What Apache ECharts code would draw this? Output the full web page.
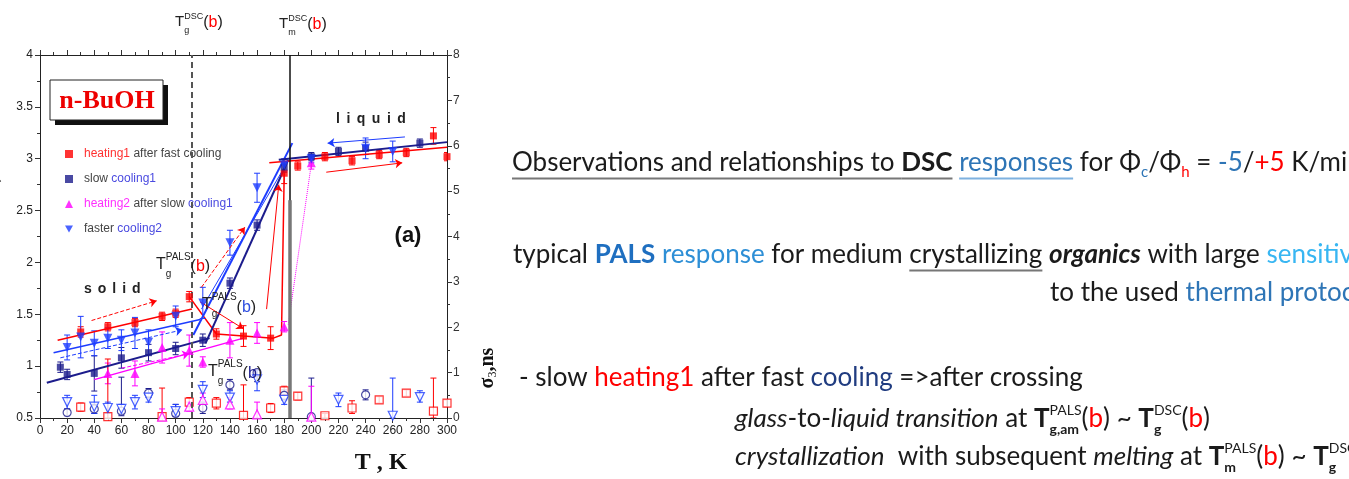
<!DOCTYPE html>
<html><head><meta charset="utf-8">
<script src="https://cdn.jsdelivr.net/npm/echarts@6/dist/echarts.min.js"></script>
<style>html,body{margin:0;padding:0;background:#fff;overflow:hidden}#c{width:1349px;height:479px}</style>
</head><body><div id="c"></div>
<script>
// ---------- data (T in K, tau3 in ns on left axis, sigma3 in ns on right axis) ----------
const heating1T   = [30, 50, 70, 90, 100, 110, 130, 150, 170, 180, 190, 210, 230, 250, 270, 290, 300];
const heating1Tau = [1.33, 1.38, 1.42, 1.48, 1.51, 1.67, 1.31, 1.29, 1.27, 2.86, 2.93, 3.02, 2.98, 3.04, 3.06, 3.22, 3.02];
const heating1Err = [0.05, 0.04, 0.04, 0.04, 0.04, 0.05, 0.05, 0.1, 0.11, 0.1, 0.04, 0.04, 0.04, 0.04, 0.04, 0.08, 0.04];

const slowCooling1T   = [15, 20, 40, 60, 80, 100, 120, 140, 160, 180, 200, 220, 240, 280];
const slowCooling1Tau = [0.99, 0.92, 0.93, 1.08, 1.13, 1.17, 1.25, 1.80, 2.36, 2.92, 3.02, 3.07, 3.10, 3.15];
const slowCooling1Err = [0.05, 0.05, 0.17, 0.1, 0.08, 0.06, 0.06, 0.05, 0.05, 0.05, 0.04, 0.04, 0.06, 0.04];

const heating2T   = [50, 70, 90, 110, 120, 140, 160, 180, 200];
const heating2Tau = [0.93, 0.93, 1.18, 1.15, 1.04, 1.25, 1.32, 1.38, 2.96];
const heating2Err = [0.1, 0.12, 0.15, 0.15, 0.05, 0.17, 0.1, 0.05, 0.06];

const fasterCooling2T   = [20, 30, 40, 50, 60, 70, 80, 100, 120, 140, 160, 180, 200, 240, 260];
const fasterCooling2Tau = [1.18, 1.28, 1.22, 1.27, 1.25, 1.32, 1.23, 1.48, 1.61, 2.19, 2.72, 2.94, 3.00, 3.10, 3.07];
const fasterCooling2Err = [0.12, 0.2, 0.12, 0.1, 0.1, 0.15, 0.12, 0.1, 0.15, 0.12, 0.14, 0.06, 0.04, 0.1, 0.1];

const heating1SigT  = [30, 50, 90, 110, 130, 150, 170, 180, 190, 210, 230, 250, 270, 290, 300];
const heating1Sig   = [0.24, 0.03, 0.03, 0.35, 0.33, 0.06, 0.22, 0.6, 0.48, 0.05, 0.22, 0.4, 0.55, 0.15, 0.33];
const heating1SigLo = [0.15, 0, 0, 0.25, 0.2, 0, 0.12, 0.5, 0.4, 0, 0.1, 0.33, 0.48, 0, 0.25];
const heating1SigHi = [0.33, 1.3, 0.66, 0.45, 0.45, 0.73, 0.32, 0.7, 0.56, 0.1, 0.38, 0.47, 0.62, 0.88, 0.4];

const slowCooling1SigT  = [20, 40, 60, 80, 100, 120, 140, 160, 180, 200, 240];
const slowCooling1Sig   = [0.12, 0.2, 0.15, 0.55, 0.1, 0.22, 0.73, 1.0, 0.5, 0.03, 0.51];
const slowCooling1SigLo = [0.05, 0.1, 0.05, 0.45, 0.03, 0.1, 0.62, 0.8, 0.4, 0, 0.4];
const slowCooling1SigHi = [0.2, 0.3, 0.9, 0.65, 0.3, 0.35, 0.85, 1.05, 0.62, 0.88, 0.62];

const fasterCooling2SigT  = [20, 40, 50, 60, 70, 80, 100, 120, 140, 160, 180, 220, 260, 280];
const fasterCooling2Sig   = [0.35, 0.25, 0.22, 0.2, 0.35, 0.45, 0.15, 0.62, 0.45, 0.85, 0.4, 0.4, 0.05, 0.46];
const fasterCooling2SigLo = [0.2, 0.1, 0.1, 0.1, 0.2, 0.35, 0.05, 0.45, 0.35, 0.6, 0.3, 0.25, 0, 0.35];
const fasterCooling2SigHi = [0.5, 0.5, 0.35, 0.3, 0.5, 0.55, 0.3, 0.8, 0.6, 1.05, 0.55, 0.55, 0.88, 0.6];

const heating2SigT  = [90, 110, 120, 140, 160, 200];
const heating2Sig   = [0.03, 0.25, 0.4, 0.3, 0.08, 0.03];
const heating2SigLo = [0, 0.15, 0.3, 0.2, 0, 0];
const heating2SigHi = [0.2, 0.35, 0.55, 0.45, 0.35, 0.7];

// fitted / guide lines, [T, tau3]
const redFitSolid      = [[13, 1.25], [112, 1.55]];
const redArrowSolid    = [[38, 1.44], [86, 1.63]];
const blueFitSolid     = [[10, 1.13], [118, 1.45]];
const blueArrowSolid   = [[15, 1.08], [105, 1.35]];
const navyFitSolid     = [[5, 0.84], [125, 1.27]];
const magentaFitSolid  = [[40, 0.87], [150, 1.27]];
const magentaArrow     = [[60, 0.98], [110, 1.12]];
const blueSteepA       = [[113, 1.30], [186, 3.15]];
const blueSteepB       = [[119, 1.55], [182, 2.96]];
const navySteep        = [[122, 1.22], [183, 2.99]];
const redArrowSteep    = [[119, 1.76], [151, 2.34]];
const redArrowDown     = [[118, 1.62], [150, 1.36]];
const redArrowUp       = [[167, 1.55], [176, 2.75]];
const heating2Dotted   = [[183, 1.40], [200, 2.95]];
const redFitLiquid     = [[169, 2.96], [300, 3.11]];
const navyFitLiquid    = [[176, 2.99], [300, 3.16]];
const blueArrowLiquid  = [[269, 3.21], [212, 3.15]];
const redArrowLiquid   = [[211, 2.87], [267, 2.96]];
const heating1Path     = [[110, 1.67], [130, 1.31], [150, 1.29], [172, 1.27], [178, 1.30], [180, 2.86]];
const tgDSC = 112, tmDSC = 184, tmGrayTop = 2.6;

const xLabelsInterval = 20, leftInterval = 0.5, rightInterval = 1;

// ---------- helpers ----------
const RED = '#ff0000', NAVY = '#1c1c8c', MAG = '#ff00ff', BLUE = '#1d3cff';
const pts = (T, V) => T.map((t, i) => [t, V[i]]);
function errData(T, V, E) { return T.map((t, i) => [t, V[i] - E[i], V[i] + E[i]]); }
function errData2(T, L, H) { return T.map((t, i) => [t, L[i], H[i]]); }
function errSeries(data, color, yIdx) {
  return {
    type: 'custom', yAxisIndex: yIdx, silent: true, z: 3, clip: true,
    encode: { x: 0, y: [1, 2] }, data,
    renderItem(params, api) {
      const x = api.value(0);
      const a = api.coord([x, api.value(1)]), b = api.coord([x, api.value(2)]);
      const st = { stroke: color, lineWidth: 1 };
      return { type: 'group', children: [
        { type: 'line', shape: { x1: a[0], y1: a[1], x2: b[0], y2: b[1] }, style: st },
        { type: 'line', shape: { x1: a[0] - 3, y1: a[1], x2: a[0] + 3, y2: a[1] }, style: st },
        { type: 'line', shape: { x1: b[0] - 3, y1: b[1], x2: b[0] + 3, y2: b[1] }, style: st }
      ]};
    }
  };
}
function seg(p, color, width, type, arrow) {
  const ls = { color, width, type };
  return [{ coord: p[0], symbol: 'none', lineStyle: ls }, { coord: p[1], symbol: arrow ? 'arrow' : 'none', symbolSize: arrow ? 7 : 0, lineStyle: ls }];
}

const mctx = document.createElement('canvas').getContext('2d');
function run(x0, y, base, pieces) {
  const els = []; let x = x0;
  for (const q of pieces) {
    const p = Object.assign({}, base, q);
    mctx.font = (p.i ? 'italic ' : 'normal ') + (p.b ? 'bold ' : 'normal ') + p.s + 'px ' + p.f;
    const w = mctx.measureText(p.t).width;
    els.push({ type: 'text', silent: true, x: x, y: y + (p.dy || 0), z: 50,
      style: { text: p.t, fontSize: p.s, fontFamily: p.f, fontWeight: p.b ? 'bold' : 'normal', fontStyle: p.i ? 'italic' : 'normal',
        fill: p.c, align: 'left', verticalAlign: 'middle', textAlign: 'left', textVerticalAlign: 'middle' } });
    if (p.u) els.push({ type: 'line', silent: true, z: 50, shape: { x1: x, y1: y + p.s * 0.6, x2: x + w, y2: y + p.s * 0.6 }, style: { stroke: p.u, lineWidth: 2 } });
    if (!p.nx) x += w + (p.ls || 0);
  }
  return els;
}
function spaced(x0, y, base, word, gap) {
  return run(x0, y, base, word.split('').map(ch => ({ t: ch, ls: gap })));
}

// ---------- graphic text ----------
const AR = 'Liberation Sans, Arial, sans-serif';
const SF = 'Liberation Serif, Times New Roman, serif';
const TF = 'Lato, Open Sans, sans-serif';
const TXT = '#1b1b1b';
let G = [];
// top labels
G = G.concat(run(175, 22, { s: 15, f: AR, c: '#222' }, [
  { t: 'T' }, { t: 'g', s: 9, dy: 9, nx: true }, { t: 'DSC', s: 9, dy: -5 }, { t: '(', s: 16, dy: 1 }, { t: 'b', s: 16, dy: 1, c: RED }, { t: ')', s: 16, dy: 1 }]));
G = G.concat(run(279, 24, { s: 15, f: AR, c: '#222' }, [
  { t: 'T' }, { t: 'm', s: 9, dy: 9, nx: true }, { t: 'DSC', s: 9, dy: -5 }, { t: '(', s: 16, dy: 1 }, { t: 'b', s: 16, dy: 1, c: RED }, { t: ')', s: 16, dy: 1 }]));
// PALS labels inside plot
G = G.concat(run(156, 265, { s: 16, f: AR, c: '#222' }, [
  { t: 'T' }, { t: 'g', s: 10, dy: 9, nx: true }, { t: 'PALS', s: 10, dy: -8 }, { t: '(', dy: 2 }, { t: 'b', dy: 2, c: RED }, { t: ')', dy: 2 }]));
G = G.concat(run(202, 305, { s: 16, f: AR, c: '#222' }, [
  { t: 'T' }, { t: 'g', s: 10, dy: 9, nx: true }, { t: 'PALS', s: 10, dy: -8 }, { t: '(', dy: 3 }, { t: 'b', dy: 3, c: '#3050e0' }, { t: ')', dy: 3 }]));
G = G.concat(run(208, 372, { s: 16, f: AR, c: '#222' }, [
  { t: 'T' }, { t: 'g', s: 10, dy: 9, nx: true }, { t: 'PALS', s: 10, dy: -8 }, { t: '(', dy: 2 }, { t: 'b', dy: 2, c: NAVY }, { t: ')', dy: 2 }]));
G = G.concat(spaced(84, 289, { s: 14, f: AR, c: '#222', b: true }, 'solid', 6));
G = G.concat(spaced(336, 119, { s: 14, f: AR, c: '#222', b: true }, 'liquid', 6.5));
G.push({ type: 'text', silent: true, x: 408, y: 236, z: 50, style: { text: '(a)', fontSize: 22, fontWeight: 'bold', fontFamily: AR, fill: '#111', align: 'center', verticalAlign: 'middle', textAlign: 'center', textVerticalAlign: 'middle' } });
G.push({ type: 'text', silent: true, x: 381, y: 463, z: 50, style: { text: 'T , K', fontSize: 24, fontWeight: 'bold', fontFamily: SF, fill: '#111', align: 'center', verticalAlign: 'middle', textAlign: 'center', textVerticalAlign: 'middle' } });
// sample box
G.push({ type: 'rect', silent: true, z: 40, shape: { x: 55, y: 85, width: 113, height: 40 }, style: { fill: '#111' } });
G.push({ type: 'rect', silent: true, z: 41, shape: { x: 50, y: 80, width: 113, height: 40 }, style: { fill: '#fff', stroke: '#222', lineWidth: 1 } });
G.push({ type: 'text', silent: true, x: 107, y: 101, z: 42, style: { text: 'n-BuOH', fontSize: 26, fontWeight: 'bold', fontFamily: SF, fill: '#ee0000', align: 'center', verticalAlign: 'middle', textAlign: 'center', textVerticalAlign: 'middle' } });
// axis names
G.push({ type: 'text', silent: true, x: 488, y: 368, rotation: Math.PI / 2, z: 50, style: { text: '{a|σ}{s|3}{a|,ns}', fill: '#111', align: 'center', verticalAlign: 'middle', textAlign: 'center', textVerticalAlign: 'middle',
  rich: { a: { fontSize: 20, fontWeight: 'bold', fontFamily: SF, fill: '#111' }, s: { fontSize: 12, fontFamily: SF, fill: '#111', verticalAlign: 'bottom', padding: [9, 0, 0, 0] } } } });
G.push({ type: 'text', silent: true, x: -5, y: 178, rotation: Math.PI / 2, z: 50, style: { text: 'τ3, ns', fontSize: 16, fontWeight: 'bold', fontFamily: SF, fill: '#111', align: 'center', verticalAlign: 'middle', textAlign: 'center', textVerticalAlign: 'middle' } });

// right text block
const tb = { s: 26, f: TF, c: TXT };
const subS = 15, supS = 14;
G = G.concat(run(512, 163, tb, [
  { t: 'Observations and relationships to ', u: '#777' }, { t: 'DSC', b: true, u: '#777' }, { t: ' ' }, { t: 'responses', c: '#2e75b6', u: '#7fb2e0' },
  { t: ' for Φ' }, { t: 'c', s: subS, dy: 9, c: '#2e75b6' }, { t: '/Φ' }, { t: 'h', s: subS, dy: 9, c: RED }, { t: ' = ' }, { t: '-5', c: '#2e75b6' }, { t: '/' }, { t: '+5', c: RED }, { t: ' K/min' }]));
G = G.concat(run(513, 255, tb, [
  { t: 'typical ' }, { t: 'PALS', b: true, c: '#1f6fc0' }, { t: ' response', c: '#2e8fd6' }, { t: ' for medium ' }, { t: 'crystallizing', u: '#777' }, { t: ' ' },
  { t: 'organics', b: true, i: true }, { t: ' with large ' }, { t: 'sensitivity', c: '#38b6f2' }]));
G = G.concat(run(1050, 293, tb, [{ t: 'to the used ' }, { t: 'thermal protocol', c: '#2e75b6' }]));
G = G.concat(run(519, 378, tb, [
  { t: '- slow ' }, { t: 'heating1', c: RED }, { t: ' after fast ' }, { t: 'cooling', c: '#203c80' }, { t: ' =>after crossing' }]));
G = G.concat(run(735, 419, tb, [
  { t: 'glass', i: true }, { t: '-to-' }, { t: 'liquid transition', i: true }, { t: ' at ' }, { t: 'T', b: true },
  { t: 'g,am', s: supS, b: true, dy: 10, nx: true }, { t: 'PALS', s: supS, dy: -9 }, { t: '(' }, { t: 'b', c: RED }, { t: ') ~ ' }, { t: 'T', b: true },
  { t: 'g', s: supS, b: true, dy: 10, nx: true }, { t: 'DSC', s: supS, dy: -9 }, { t: '(' }, { t: 'b', c: RED }, { t: ')' }]));
G = G.concat(run(735, 457, tb, [
  { t: 'crystallization', i: true }, { t: '  with subsequent ' }, { t: 'melting', i: true }, { t: ' at ' }, { t: 'T', b: true },
  { t: 'm', s: supS, b: true, dy: 10, nx: true }, { t: 'PALS', s: supS, dy: -9 }, { t: '(' }, { t: 'b', c: RED }, { t: ') ~ ' }, { t: 'T', b: true },
  { t: 'g', s: supS, b: true, dy: 10, nx: true }, { t: 'DSC', s: supS, dy: -9 }, { t: '(' }, { t: 'b', c: RED }, { t: ')' }]));

// ---------- chart ----------
const axisCommon = {
  type: 'value', min: 0, max: 300, interval: xLabelsInterval,
  axisLine: { show: true, onZero: false, lineStyle: { color: '#222', width: 1 } },
  axisTick: { show: true, inside: false, length: 5, lineStyle: { color: '#333' } },
  minorTick: { show: true, splitNumber: 2, length: 3, lineStyle: { color: '#333' } },
  splitLine: { show: false }, minorSplitLine: { show: false }
};
const chart = echarts.init(document.getElementById('c'), null, { renderer: 'canvas' });
const lineSeriesMarks = [
  seg(redFitSolid, RED, 1.5, 'solid', false),
  seg(redArrowSolid, RED, 1, 'dashed', true),
  seg(blueFitSolid, BLUE, 1.5, 'solid', false),
  seg(blueArrowSolid, BLUE, 1, 'dashed', true),
  seg(navyFitSolid, NAVY, 2, 'solid', false),
  seg(magentaFitSolid, MAG, 1.5, 'solid', false),
  seg(magentaArrow, MAG, 1, 'dashed', true),
  seg(blueSteepA, BLUE, 2, 'solid', false),
  seg(blueSteepB, BLUE, 1, 'solid', false),
  seg(navySteep, NAVY, 2, 'solid', false),
  seg(redArrowSteep, RED, 1, 'dashed', true),
  seg(redArrowDown, RED, 1, 'solid', true),
  seg(redArrowUp, RED, 1, 'solid', true),
  seg(heating2Dotted, MAG, 1, 'dotted', false),
  seg(redFitLiquid, RED, 1.5, 'solid', false),
  seg(navyFitLiquid, NAVY, 2, 'solid', false),
  seg(blueArrowLiquid, BLUE, 1, 'solid', true),
  seg(redArrowLiquid, RED, 1, 'solid', true),
  seg([[tgDSC, 0.5], [tgDSC, 4]], '#555', 2, [6, 4], false),
  seg([[tmDSC, 0.5], [tmDSC, 4]], '#111', 1.5, 'solid', false),
  seg([[tmDSC, 0.5], [tmDSC, tmGrayTop]], '#777', 3.5, 'solid', false)
];
const lblStyle = { fontSize: 12, color: '#222', fontFamily: AR, showMinLabel: true, showMaxLabel: true };
const option = {
  backgroundColor: '#fff',
  animation: false,
  grid: { left: 40, right: 902, top: 55, bottom: 61, containLabel: false, outerBoundsMode: 'none' },
  legend: {
    left: 60, top: 143, orient: 'vertical', itemGap: 13, itemWidth: 8, itemHeight: 8, selectedMode: false,
    data: [
      { name: 'heating1 after fast cooling', icon: 'rect' },
      { name: 'slow cooling1', icon: 'rect' },
      { name: 'heating2 after slow cooling1', icon: 'triangle' },
      { name: 'faster cooling2', icon: 'path://M0,0L10,0L5,9Z' }
    ],
    formatter(n) {
      return {
        'heating1 after fast cooling': '{r|heating1} {g|after fast cooling}',
        'slow cooling1': '{g|slow} {b|cooling1}',
        'heating2 after slow cooling1': '{m|heating2} {g|after slow} {b|cooling1}',
        'faster cooling2': '{g|faster} {b|cooling2}'
      }[n];
    },
    textStyle: { fontSize: 12, fontFamily: AR, padding: [0, 0, 0, 6],
      rich: { r: { color: '#ff3030', fontSize: 12, fontFamily: AR }, g: { color: '#444', fontSize: 12, fontFamily: AR },
        b: { color: '#4a4ae0', fontSize: 12, fontFamily: AR }, m: { color: '#ff30ff', fontSize: 12, fontFamily: AR } } }
  },
  xAxis: [
    Object.assign({}, axisCommon, { position: 'bottom', axisLabel: Object.assign({ margin: 7 }, lblStyle) }),
    Object.assign({}, axisCommon, { position: 'top', axisLabel: { show: false } })
  ],
  yAxis: [
    { type: 'value', position: 'left', min: 0.5, max: 4, interval: leftInterval,
      axisLine: { show: true, onZero: false, lineStyle: { color: '#222' } },
      axisTick: { show: true, length: 5, lineStyle: { color: '#333' } },
      minorTick: { show: true, splitNumber: 2, length: 3, lineStyle: { color: '#333' } },
      splitLine: { show: false }, axisLabel: Object.assign({ margin: 7 }, lblStyle) },
    { type: 'value', position: 'right', min: 0, max: 8, interval: rightInterval,
      axisLine: { show: true, onZero: false, lineStyle: { color: '#222' } },
      axisTick: { show: true, length: 5, lineStyle: { color: '#333' } },
      minorTick: { show: true, splitNumber: 2, length: 3, lineStyle: { color: '#333' } },
      splitLine: { show: false }, axisLabel: Object.assign({ margin: 6 }, lblStyle, { color: '#333' }) }
  ],
  graphic: { elements: G },
  series: [
    { type: 'line', data: [], silent: true, z: 2,
      markLine: { silent: true, symbol: ['none', 'none'], label: { show: false }, emphasis: { disabled: true }, animation: false, data: lineSeriesMarks } },
    { type: 'line', data: heating1Path, showSymbol: false, silent: true, z: 2, lineStyle: { color: RED, width: 1.5 } },
    errSeries(errData(heating1T, heating1Tau, heating1Err), RED, 0),
    errSeries(errData(slowCooling1T, slowCooling1Tau, slowCooling1Err), NAVY, 0),
    errSeries(errData(heating2T, heating2Tau, heating2Err), MAG, 0),
    errSeries(errData(fasterCooling2T, fasterCooling2Tau, fasterCooling2Err), BLUE, 0),
    errSeries(errData2(heating1SigT, heating1SigLo, heating1SigHi), RED, 1),
    errSeries(errData2(slowCooling1SigT, slowCooling1SigLo, slowCooling1SigHi), NAVY, 1),
    errSeries(errData2(fasterCooling2SigT, fasterCooling2SigLo, fasterCooling2SigHi), BLUE, 1),
    errSeries(errData2(heating2SigT, heating2SigLo, heating2SigHi), MAG, 1),
    { type: 'scatter', name: 'heating1 after fast cooling', data: pts(heating1T, heating1Tau), symbol: 'rect', symbolSize: 7, itemStyle: { color: RED }, z: 5, silent: true },
    { type: 'scatter', name: 'slow cooling1', data: pts(slowCooling1T, slowCooling1Tau), symbol: 'rect', symbolSize: 7, itemStyle: { color: NAVY }, z: 5, silent: true },
    { type: 'scatter', name: 'heating2 after slow cooling1', data: pts(heating2T, heating2Tau), symbol: 'triangle', symbolSize: 9, itemStyle: { color: MAG }, z: 5, silent: true },
    { type: 'scatter', name: 'faster cooling2', data: pts(fasterCooling2T, fasterCooling2Tau), symbol: 'triangle', symbolRotate: 180, symbolSize: 9, itemStyle: { color: BLUE }, z: 5, silent: true },
    { type: 'scatter', name: 'sigma heating1', yAxisIndex: 1, data: pts(heating1SigT, heating1Sig), symbol: 'rect', symbolSize: 8, itemStyle: { color: '#fff', borderColor: RED, borderWidth: 1.2 }, z: 4, silent: true },
    { type: 'scatter', name: 'sigma slow cooling1', yAxisIndex: 1, data: pts(slowCooling1SigT, slowCooling1Sig), symbol: 'circle', symbolSize: 8, itemStyle: { color: '#fff', borderColor: NAVY, borderWidth: 1.2 }, z: 4, silent: true },
    { type: 'scatter', name: 'sigma faster cooling2', yAxisIndex: 1, data: pts(fasterCooling2SigT, fasterCooling2Sig), symbol: 'triangle', symbolRotate: 180, symbolSize: 9, itemStyle: { color: '#fff', borderColor: BLUE, borderWidth: 1.2 }, z: 4, silent: true },
    { type: 'scatter', name: 'sigma heating2', yAxisIndex: 1, data: pts(heating2SigT, heating2Sig), symbol: 'triangle', symbolSize: 9, itemStyle: { color: '#fff', borderColor: MAG, borderWidth: 1.2 }, z: 4, silent: true }
  ]
};
chart.setOption(option);
</script></body></html>
